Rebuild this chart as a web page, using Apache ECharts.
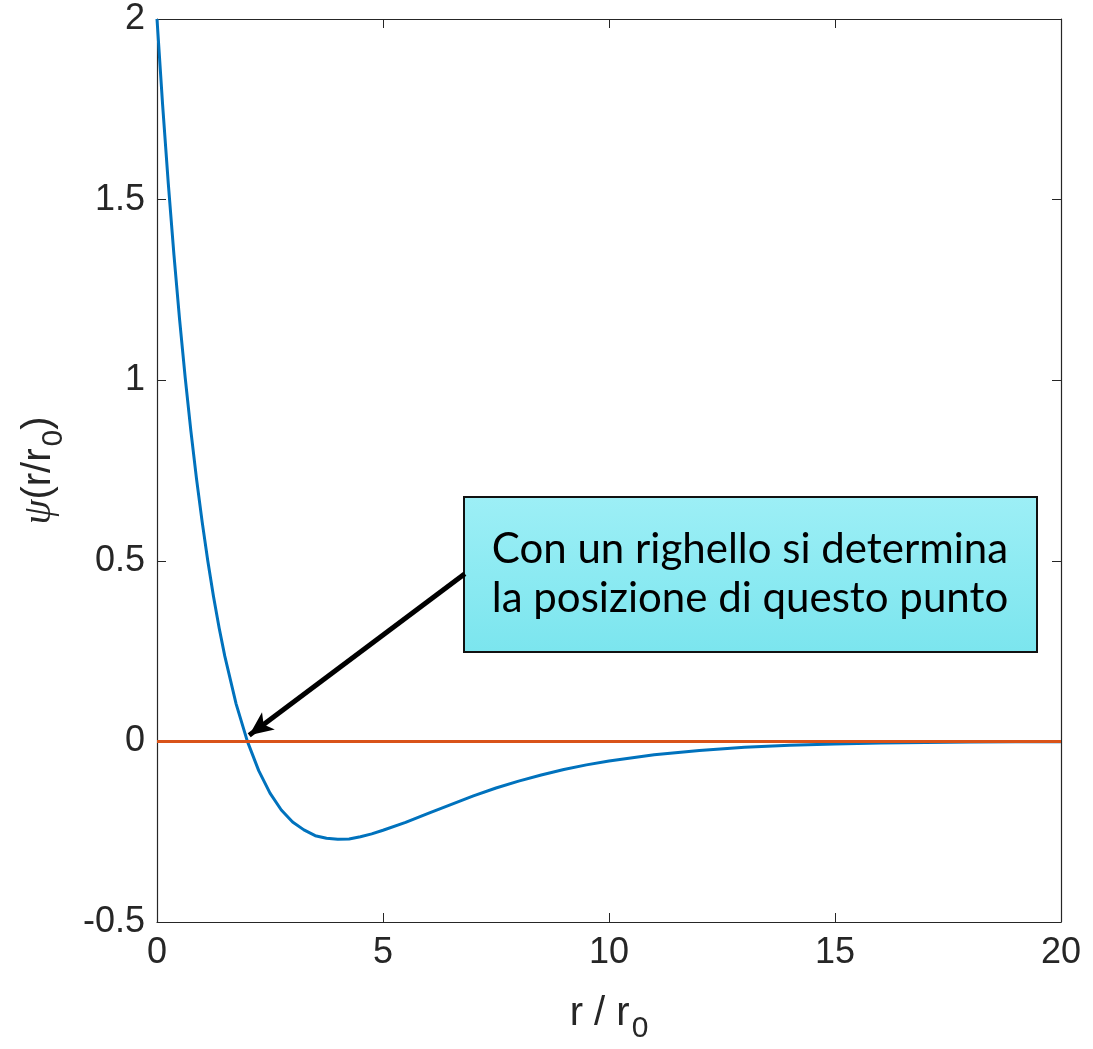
<!DOCTYPE html>
<html>
<head>
<meta charset="utf-8">
<script src="https://cdn.jsdelivr.net/npm/echarts@6/dist/echarts.min.js"></script>
<style>
  html, body { margin: 0; padding: 0; background: #fff; }
  #main { width: 1093px; height: 1049px; }
</style>
</head>
<body>
<div id="main"></div>
<script>
// valori
var rValues = [0, 0.125, 0.25, 0.375, 0.5, 0.625, 0.75, 0.875, 1, 1.125, 1.25, 1.375, 1.5, 1.75, 2, 2.25, 2.5, 2.75, 3, 3.25, 3.5, 3.75, 4, 4.25, 4.5, 4.75, 5, 5.5, 6, 6.5, 7, 7.5, 8, 8.5, 9, 9.5, 10, 11, 12, 13, 14, 15, 16, 17, 18, 19, 20];
var psiValues = [2.0, 1.761, 1.544, 1.347, 1.168, 1.006, 0.859, 0.726, 0.607, 0.499, 0.401, 0.314, 0.236, 0.104, 0.0, -0.081, -0.143, -0.190, -0.223, -0.245, -0.261, -0.268, -0.271, -0.270, -0.264, -0.256, -0.246, -0.224, -0.199, -0.175, -0.151, -0.129, -0.110, -0.093, -0.078, -0.065, -0.054, -0.037, -0.025, -0.0165, -0.011, -0.0072, -0.0047, -0.003, -0.002, -0.0013, -0.0008];
var zeroLine = [[0, 0], [20, 0]];
var xTicks = [0, 5, 10, 15, 20];
var yTicks = [-0.5, 0, 0.5, 1, 1.5, 2];
// freccia: dalla casella al punto di attraversamento
var arrowFrom = [6.81, 0.464];
var arrowTo = [2.04, 0.017];
var boxLines = ['Con un righello si determina', 'la posizione di questo punto'];

var psiData = rValues.map(function (r, i) { return [r, psiValues[i]]; });

var axisColor = '#262626';
var tickFont = 'Liberation Sans, Arial, sans-serif';

function makeX(pos, show) {
  return {
    type: 'value', position: pos,
    min: xTicks[0], max: xTicks[xTicks.length - 1], interval: 5,
    axisLine: { show: true, onZero: false, lineStyle: { color: axisColor, width: 1.2 } },
    axisTick: { show: true, inside: true, length: 9, lineStyle: { color: axisColor } },
    axisLabel: { show: show, color: axisColor, fontSize: 36, fontFamily: tickFont, margin: 13 },
    splitLine: { show: false }
  };
}
function makeY(pos, show) {
  return {
    type: 'value', position: pos,
    min: yTicks[0], max: yTicks[yTicks.length - 1], interval: 0.5,
    axisLine: { show: true, onZero: false, lineStyle: { color: axisColor, width: 1.2 } },
    axisTick: { show: true, inside: true, length: 9, lineStyle: { color: axisColor } },
    axisLabel: { show: show, color: axisColor, fontSize: 36, fontFamily: tickFont, margin: 12 },
    splitLine: { show: false }
  };
}

var xBottom = makeX('bottom', true);
xBottom.name = '{n|r / r}{s|0}';
xBottom.nameLocation = 'middle';
xBottom.nameGap = 62;
xBottom.nameTextStyle = {
  rich: {
    n: { fontSize: 40, fontFamily: tickFont, color: axisColor },
    s: { fontSize: 30, fontFamily: tickFont, color: axisColor, padding: [30, 0, 0, 2] }
  }
};
var xTop = makeX('top', false);

var yLeft = makeY('left', true);
yLeft.name = '{p|ψ}{n|(r/r}{s|0}{n|)}';
yLeft.nameLocation = 'middle';
yLeft.nameRotate = 90;
yLeft.nameGap = 88;
yLeft.nameTextStyle = {
  rich: {
    p: { fontSize: 40, fontFamily: 'Liberation Serif, serif', fontStyle: 'italic', color: axisColor },
    n: { fontSize: 40, fontFamily: tickFont, color: axisColor },
    s: { fontSize: 30, fontFamily: tickFont, color: axisColor, padding: [30, 0, 0, 2] }
  }
};
var yRight = makeY('right', false);

var myChart = echarts.init(document.getElementById('main'));
myChart.setOption({
  animation: false,
  backgroundColor: '#ffffff',
  grid: { left: 157, right: 32, top: 19, bottom: 125, containLabel: false },
  xAxis: [xBottom, xTop],
  yAxis: [yLeft, yRight],
  series: [
    {
      name: 'psi',
      type: 'line',
      data: psiData,
      smooth: false,
      showSymbol: false,
      lineStyle: { color: '#0072BD', width: 3, join: 'round' },
      z: 2
    },
    {
      name: 'zero',
      type: 'line',
      data: zeroLine,
      showSymbol: false,
      lineStyle: { color: '#D95319', width: 3 },
      z: 3,
      markLine: {
        silent: true,
        symbol: ['none', 'arrow'],
        symbolSize: [16, 24],
        label: { show: false },
        lineStyle: { color: '#000', width: 5, type: 'solid' },
        data: [[{ coord: arrowFrom }, { coord: arrowTo }]]
      }
    }
  ],
  graphic: [
    {
      type: 'group',
      left: 463, top: 496,
      z: 100,
      children: [
        {
          type: 'rect',
          shape: { x: 0, y: 0, width: 573, height: 155 },
          style: {
            fill: new echarts.graphic.LinearGradient(0, 0, 0, 1, [
              { offset: 0, color: '#9DEFF6' },
              { offset: 1, color: '#7BE5EE' }
            ]),
            stroke: '#111', lineWidth: 2
          }
        },
        {
          type: 'text',
          x: 286, y: 77,
          style: {
            text: boxLines.join('\n'),
            fill: '#000',
            font: '42px Lato, "Noto Sans", sans-serif',
            align: 'center', verticalAlign: 'middle',
            lineHeight: 49
          }
        }
      ]
    }
  ]
});
</script>
</body>
</html>
